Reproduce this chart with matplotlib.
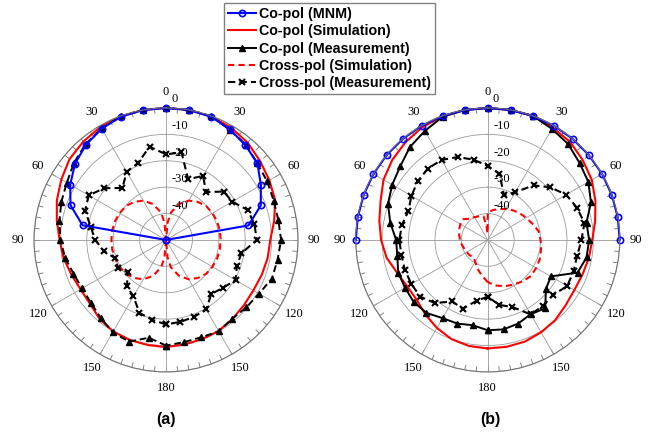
import numpy as np
import matplotlib
matplotlib.use("Agg")
import matplotlib.pyplot as plt

# angles in degrees, 0 = top, positive = right side
ang10 = list(range(-180, 181, 10))
ang_mnm = list(range(-90, 91, 10))
ang_xsim_a = [-180, -175, -170, -160, -150, -140, -130, -120, -110, -100, -90,
              -80, -70, -60, -50, -40, -30, -20, -10, -5, 0, 5, 10, 20, 30, 40,
              50, 60, 70, 80, 90, 100, 110, 120, 130, 140, 150, 160, 170, 175, 180]
ang_xsim_b = [-180, -170, -160, -150, -140, -130, -120, -110, -100, -90, -80, -70,
              -60, -50, -40, -30, -20, -10, -5, -2, 0, 10, 20, 30, 40, 50, 60, 70,
              80, 90, 100, 110, 120, 130, 140, 150, 160, 170, 180]

# ---- (a)
a_mnm = [-50, -17.9, -11.5, -8.1, -5.0, -2.9, -1.3, -0.3, 0, 0, 0, -0.3, -1.6,
         -3.2, -4.8, -8.5, -11.8, -18.3, -50]
a_copol_sim = [-9.4, -9.6, -9.7, -10.0, -10.9, -12.4, -12.6, -11.8, -10.6, -9.7,
               -8.0, -6.0, -4.2, -2.3, -1.3, -0.5, -0.1, 0, 0, 0, -0.2, -0.8,
               -1.9, -3.5, -4.8, -6.0, -8.4, -10.5, -10.9, -11.4, -11.8, -11.5,
               -10.9, -10.2, -10.0, -9.8, -9.4]
a_copol_meas = [-10.0, -12.4, -9.0, -9.6, -11.5, -12.9, -13.3, -12.7, -11.2, -10.0,
                -9.0, -7.8, -6.6, -4.5, -2.6, -1.2, -0.2, 0, 0, 0, 0, -1.8, -2.9,
                -4.9, -5.7, -6.6, -6.8, -6.4, -7.1, -7.3, -9.3, -10.3, -11.0,
                -10.0, -10.8, -10.7, -10.0]
a_xpol_sim = [-50, -43.5, -39.5, -35.5, -32.8, -31.2, -30.1, -29.7, -29.4, -29.3,
              -29.3, -29.3, -29.4, -29.7, -30.1, -31.2, -32.8, -35.5, -39.5, -43.5,
              -50, -43.5, -39.5, -35.5, -32.8, -31.2, -30.1, -29.7, -29.4, -29.3,
              -29.3, -29.3, -29.4, -29.7, -30.1, -31.2, -32.8, -35.5, -39.5, -43.5, -50]
a_xpol_meas = [-18.0, -19.3, -20.6, -25.3, -27.0, -31.0, -29.0, -29.6, -26.0, -23.2,
               -21.0, -17.4, -16.2, -19.5, -24.3, -20.2, -19.0, -14.1, -17.6, -16.3,
               -25.5, -22.0, -26.3, -21.5, -21.0, -17.0, -16.0, -15.6, -21.0, -21.4,
               -19.6, -21.8, -23.3, -19.6, -19.0, -18.5, -18.0]

# ---- (b)
b_mnm = [0] * 19
b_copol_sim = [-8.9, -9.2, -10.0, -11.5, -13.2, -14.8, -14.8, -13.5, -11.1, -9.6,
               -8.3, -6.8, -4.4, -2.8, -1.6, -0.6, -0.1, 0, 0, 0, 0, -0.8, -1.5,
               -3.0, -4.5, -6.6, -8.7, -10.4, -11.1, -11.8, -12.1, -11.5, -10.3,
               -9.6, -9.0, -8.9, -8.9]
b_copol_meas = [-15.8, -17.2, -16.3, -15.8, -13.9, -13.4, -13.8, -13.9, -15.2, -15.3,
                -12.5, -9.8, -8.2, -6.7, -4.1, -2.3, -0.3, 0, 0, 0, 0, -1.4, -2.6,
                -4.6, -6.0, -8.4, -12.0, -11.6, -12.0, -13.8, -22.4, -21.2, -16.2,
                -17.5, -16.3, -15.6, -15.8]
b_xpol_sim = [-34.0, -36.5, -38.5, -40.5, -41.5, -41.0, -40.8, -40.5, -40.0, -39.5,
              -39.0, -38.5, -38.0, -37.8, -39.5, -40.0, -40.5, -41.0, -45.0, -47.5,
              -39.5, -38.5, -37.5, -36.5, -35.3, -34.2, -33.2, -32.0, -30.5, -30.0,
              -29.5, -29.0, -28.8, -28.7, -29.5, -30.5, -31.3, -32.5, -34.0]
b_xpol_meas = [-28.5, -26.7, -22.3, -23.1, -18.8, -16.6, -16.6, -16.6, -16.8, -16.5,
               -17.0, -18.0, -16.6, -15.4, -14.7, -15.0, -16.6, -19.1, -22.0, -24.5,
               -32.0, -29.1, -23.0, -19.0, -15.7, -14.1, -12.8, -14.5, -15.6, -15.4,
               -15.2, -17.6, -17.5, -17.4, -23.0, -25.0, -28.5]

theta_ticks = [0, 30, 60, 90, 120, 150, 180, 210, 240, 270, 300, 330]
theta_labels = ["0", "30", "60", "90", "120", "150", "180", "150", "120", "90", "60", "30"]
r_ticks = [-40, -30, -20, -10, 0]

serif = "Liberation Serif"


def rad(a):
    return np.deg2rad(a)


def setup(ax):
    ax.set_theta_zero_location("N")
    ax.set_theta_direction(-1)
    ax.set_rlim(-50, 0)
    ax.set_thetagrids(theta_ticks, theta_labels, fontfamily=serif, fontsize=9)
    ax.set_rticks(r_ticks)
    ax.set_yticklabels([])
    ax.grid(True, color="#9a9a9a", lw=0.6)
    ax.spines["polar"].set_color("#707070")
    ax.spines["polar"].set_linewidth(0.8)
    ax.tick_params(axis="x", which="major", pad=4.5, length=0)
    # small inward ticks every 5 degrees on the outer circle
    for t in range(0, 360, 5):
        ax.plot([rad(t), rad(t)], [-1.8, 0], color="#707070", lw=0.6, zorder=1)
    ax.set_rlim(-50, 0)
    for v in r_ticks:
        if v == 0:
            ax.annotate("0", xy=(0, v), xytext=(5, 9), textcoords="offset pixels",
                        ha="left", va="center", fontfamily=serif, fontsize=9)
        else:
            ax.annotate(str(v), xy=(0, v), xytext=(14, 8), textcoords="offset pixels",
                        ha="center", va="center", fontfamily=serif, fontsize=9)


fig = plt.figure(figsize=(6.48, 4.32), dpi=100)
ax1 = fig.add_axes([0.0525, 0.139, 0.4074, 0.6111], projection="polar")
ax2 = fig.add_axes([0.549, 0.139, 0.4074, 0.6111], projection="polar")
setup(ax1)
setup(ax2)

xk = dict(marker="x", ms=4, mew=1.5, color="black", lw=1.5, dashes=(3.5, 2), clip_on=False)

# (a)
ax1.plot(rad(ang_xsim_a), a_xpol_sim, color="red", lw=1.5, dashes=(3, 2), clip_on=False)
ax1.plot(rad(ang10), a_xpol_meas, **xk)
ax1.plot(rad(ang10), a_copol_sim, color="red", lw=1.5, clip_on=False)
ax1.plot(rad(ang10), a_copol_meas, color="black", lw=1.4, dashes=(3.5, 2), marker="^",
         ms=5, clip_on=False)
ax1.plot(rad(ang_mnm), a_mnm, color="blue", lw=1.5, marker="o", ms=4.5, mfc="none",
         mew=1.2, clip_on=False)

# (b)
h_xs, = ax2.plot(rad(ang_xsim_b), b_xpol_sim, color="red", lw=1.5, dashes=(3, 2),
                 clip_on=False, label="Cross-pol (Simulation)")
h_xm, = ax2.plot(rad(ang10), b_xpol_meas, label="Cross-pol (Measurement)", **xk)
h_cs, = ax2.plot(rad(ang10), b_copol_sim, color="red", lw=1.5, clip_on=False,
                 label="Co-pol (Simulation)")
h_cm, = ax2.plot(rad(ang10), b_copol_meas, color="black", lw=1.4, marker="^", ms=5,
                 clip_on=False, label="Co-pol (Measurement)")
h_mn, = ax2.plot(rad(ang_mnm), b_mnm, color="blue", lw=1.5, marker="o", ms=4.5,
                 mfc="none", mew=1.2, clip_on=False, label="Co-pol (MNM)")

fig.legend(handles=[h_mn, h_cs, h_cm, h_xs, h_xm], loc="upper center",
           bbox_to_anchor=(0.508, 0.993), borderaxespad=0,
           prop=dict(family="Liberation Sans", weight="bold", size=10.3),
           fancybox=False, edgecolor="#808080", framealpha=1,
           handlelength=2.0, handletextpad=0.15, labelspacing=0.22, borderpad=0.3)

fig.text(0.256, 0.030, "(a)", ha="center", va="center", fontsize=11.5,
         fontweight="bold", family="Liberation Sans")
fig.text(0.756, 0.030, "(b)", ha="center", va="center", fontsize=11.5,
         fontweight="bold", family="Liberation Sans")

fig.savefig("out.png", dpi=100)
